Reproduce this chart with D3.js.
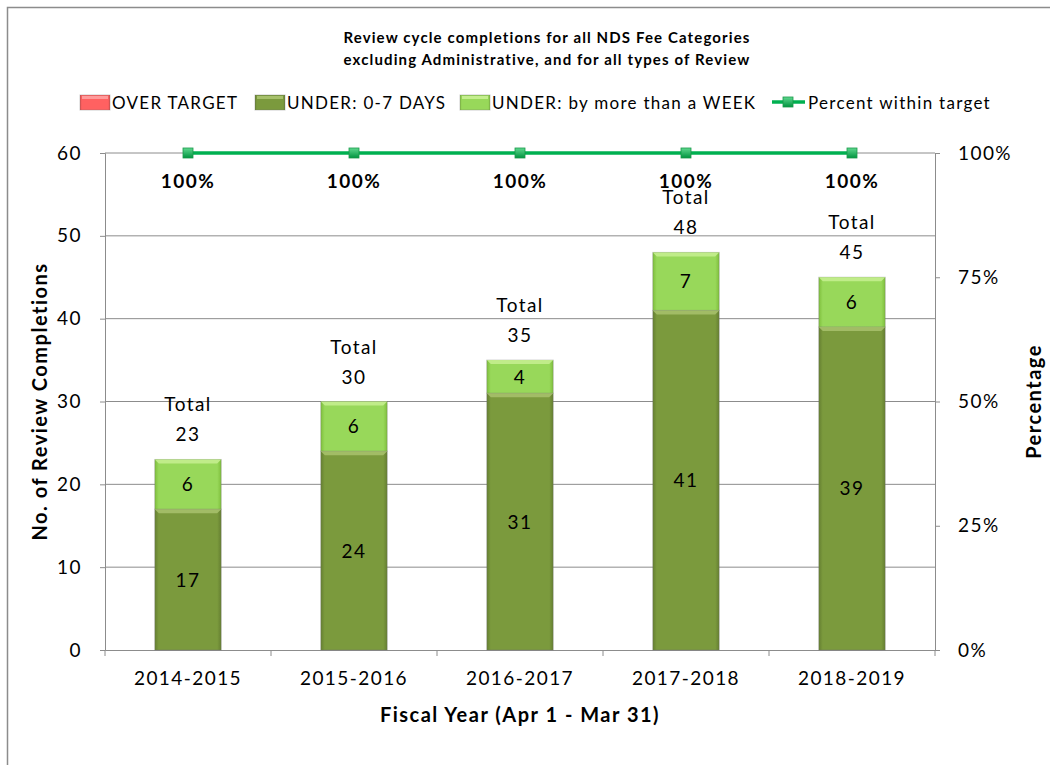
<!DOCTYPE html>
<html>
<head>
<meta charset="utf-8">
<script src="https://cdn.jsdelivr.net/npm/d3@7"></script>
<style>
  body { margin: 0; background: #fff; }
  text { font-family: Lato, "Open Sans", sans-serif; fill: #000; letter-spacing: 0.075em; }
</style>
</head>
<body>
<div id="chart"></div>
<script>
// Data
var years = ["2014-2015", "2015-2016", "2016-2017", "2017-2018", "2018-2019"];
var overTarget = [0, 0, 0, 0, 0];
var underWeekOrLess = [17, 24, 31, 41, 39];
var underMoreWeek = [6, 6, 4, 7, 6];
var percentWithin = [100, 100, 100, 100, 100];
var leftTicks = [0, 10, 20, 30, 40, 50, 60];
var rightTicks = [0, 25, 50, 75, 100];

var width = 1050, height = 765;
var margin = {top: 153, right: 115, bottom: 115, left: 105};

var svg = d3.select("#chart").append("svg")
  .attr("width", width)
  .attr("height", height);

// outer frame (only left and top visible)
svg.append("path")
  .attr("d", "M7.5,765 L7.5,7.5 L1050,7.5")
  .attr("fill", "none")
  .attr("stroke", "#8c8c8c")
  .attr("stroke-width", 1.5);

var x = d3.scaleBand()
  .domain(years)
  .range([margin.left, width - margin.right])
  .paddingInner(0.6)
  .paddingOuter(0.3);

var xb = d3.scaleBand()
  .domain(years)
  .range([margin.left, width - margin.right]);

var y = d3.scaleLinear().domain([0, 60]).range([height - margin.bottom, margin.top]);
var yp = d3.scaleLinear().domain([0, 100]).range([height - margin.bottom, margin.top]);

// gradients for beveled bars
var defs = svg.append("defs");
function bevel(id, edge, mid) {
  var g = defs.append("linearGradient").attr("id", id).attr("x1", 0).attr("x2", 1).attr("y1", 0).attr("y2", 0);
  g.append("stop").attr("offset", "0%").attr("stop-color", edge);
  g.append("stop").attr("offset", "6%").attr("stop-color", mid);
  g.append("stop").attr("offset", "94%").attr("stop-color", mid);
  g.append("stop").attr("offset", "100%").attr("stop-color", edge);
}
bevel("gOver", "#d94a4a", "#ff6161");
bevel("gDark", "#657f31", "#7b9a3d");
bevel("gLight", "#7fbf3c", "#98d85a");
var mk = defs.append("linearGradient").attr("id", "gMark").attr("x1", 0).attr("x2", 0).attr("y1", 0).attr("y2", 1);
mk.append("stop").attr("offset", "0%").attr("stop-color", "#5fd88f");
mk.append("stop").attr("offset", "100%").attr("stop-color", "#00943f");

// gridlines
svg.append("g")
  .selectAll("line")
  .data(leftTicks.slice(1))
  .enter().append("line")
  .attr("x1", margin.left).attr("x2", width - margin.right)
  .attr("y1", function(d) { return y(d); }).attr("y2", function(d) { return y(d); })
  .attr("stroke", "#8c8c8c").attr("stroke-width", 1);

// axes
var leftAxis = svg.append("g")
  .attr("transform", "translate(" + margin.left + ",0)")
  .call(d3.axisLeft(y).tickValues(leftTicks).tickSize(5).tickPadding(18));
var rightAxis = svg.append("g")
  .attr("transform", "translate(" + (width - margin.right) + ",0)")
  .call(d3.axisRight(yp).tickValues(rightTicks).tickSize(5).tickPadding(18)
    .tickFormat(function(d) { return d + "%"; }));
var bottomAxis = svg.append("g")
  .attr("transform", "translate(0," + (height - margin.bottom) + ")")
  .call(d3.axisBottom(xb).tickSize(0).tickPadding(22));

// category boundary ticks
svg.append("g").selectAll("line")
  .data(years.concat(["end"]))
  .enter().append("line")
  .attr("x1", function(d, i) { return margin.left + i * xb.bandwidth(); })
  .attr("x2", function(d, i) { return margin.left + i * xb.bandwidth(); })
  .attr("y1", height - margin.bottom).attr("y2", height - margin.bottom + 6)
  .attr("stroke", "#8c8c8c");

[leftAxis, rightAxis, bottomAxis].forEach(function(a) {
  a.selectAll(".domain").attr("stroke", "#8c8c8c");
  a.selectAll(".tick line").attr("stroke", "#8c8c8c");
  a.selectAll("text").attr("font-size", 19).attr("font-family", "Lato, sans-serif");
});

// stacked bars
var rows = years.map(function(yr, i) {
  return {year: yr, dark: underWeekOrLess[i], light: underMoreWeek[i], over: overTarget[i]};
});
var segs = [];
rows.forEach(function(r) {
  var base = 0;
  [["dark", "gDark", "#a6c06a"], ["light", "gLight", "#c4ee8e"], ["over", "gOver", "#ff9a9a"]].forEach(function(s) {
    var v = r[s[0]];
    if (v > 0) segs.push({year: r.year, y0: base, y1: base + v, v: v, fill: s[1], hi: s[2]});
    base += v;
  });
  r.total = base;
});

var bars = svg.append("g");
bars.selectAll("rect.seg")
  .data(segs)
  .enter().append("rect")
  .attr("class", "seg")
  .attr("x", function(d) { return x(d.year); })
  .attr("y", function(d) { return y(d.y1); })
  .attr("width", x.bandwidth())
  .attr("height", function(d) { return y(d.y0) - y(d.y1); })
  .attr("fill", function(d) { return "url(#" + d.fill + ")"; })
  .attr("stroke", "#6d6d6d").attr("stroke-opacity", 0.35).attr("stroke-width", 1);

// top bevel highlight
bars.selectAll("path.hi")
  .data(segs)
  .enter().append("path")
  .attr("class", "hi")
  .attr("d", function(d) {
    var x0 = x(d.year), x1 = x0 + x.bandwidth(), t = y(d.y1);
    return "M" + x0 + "," + t + " L" + x1 + "," + t + " L" + (x1 - 4) + "," + (t + 4) + " L" + (x0 + 4) + "," + (t + 4) + "Z";
  })
  .attr("fill", function(d) { return d.hi; })
  .attr("opacity", 0.9);

// value labels in segments
bars.selectAll("text.val")
  .data(segs)
  .enter().append("text")
  .attr("class", "val")
  .attr("x", function(d) { return x(d.year) + x.bandwidth() / 2; })
  .attr("y", function(d) { return (y(d.y0) + y(d.y1)) / 2 + 7; })
  .attr("text-anchor", "middle")
  .attr("font-size", 19)
  .text(function(d) { return d.v; });

// totals
var totals = svg.append("g").selectAll("g")
  .data(rows)
  .enter().append("g");
totals.append("text")
  .attr("x", function(d) { return x(d.year) + x.bandwidth() / 2; })
  .attr("y", function(d) { return y(d.total) - 48; })
  .attr("text-anchor", "middle").attr("font-size", 19)
  .text("Total");
totals.append("text")
  .attr("x", function(d) { return x(d.year) + x.bandwidth() / 2; })
  .attr("y", function(d) { return y(d.total) - 18; })
  .attr("text-anchor", "middle").attr("font-size", 19)
  .text(function(d) { return d.total; });

// percent line
var pts = years.map(function(yr, i) { return {year: yr, p: percentWithin[i]}; });
var line = d3.line()
  .x(function(d) { return xb(d.year) + xb.bandwidth() / 2; })
  .y(function(d) { return yp(d.p); });
svg.append("path")
  .datum(pts)
  .attr("d", line)
  .attr("fill", "none")
  .attr("stroke", "#00b050")
  .attr("stroke-width", 3.5);
svg.append("g").selectAll("rect")
  .data(pts)
  .enter().append("rect")
  .attr("x", function(d) { return xb(d.year) + xb.bandwidth() / 2 - 5; })
  .attr("y", function(d) { return yp(d.p) - 5; })
  .attr("width", 10).attr("height", 10)
  .attr("fill", "url(#gMark)")
  .attr("stroke", "#1a9a4a").attr("stroke-width", 0.8);
svg.append("g").selectAll("text")
  .data(pts)
  .enter().append("text")
  .attr("x", function(d) { return xb(d.year) + xb.bandwidth() / 2; })
  .attr("y", function(d) { return yp(d.p) + 35; })
  .attr("text-anchor", "middle")
  .attr("font-size", 19).attr("font-weight", "bold")
  .text(function(d) { return d.p + "%"; });

// title
var title = svg.append("text")
  .attr("x", 547).attr("y", 43)
  .attr("text-anchor", "middle")
  .attr("font-size", 15).attr("font-weight", "bold");
title.append("tspan").attr("x", 547).text("Review cycle completions for all NDS Fee Categories");
title.append("tspan").attr("x", 547).attr("dy", 22).text("excluding Administrative,  and for all types of Review");

// axis titles
svg.append("text")
  .attr("transform", "translate(47," + ((margin.top + height - margin.bottom) / 2) + ") rotate(-90)")
  .attr("text-anchor", "middle")
  .attr("font-size", 20).attr("font-weight", "bold")
  .text("No. of Review Completions");
svg.append("text")
  .attr("transform", "translate(1041," + ((margin.top + height - margin.bottom) / 2) + ") rotate(-90)")
  .attr("text-anchor", "middle")
  .attr("font-size", 20).attr("font-weight", "bold")
  .text("Percentage");
svg.append("text")
  .attr("x", (margin.left + width - margin.right) / 2)
  .attr("y", 722)
  .attr("text-anchor", "middle")
  .attr("font-size", 20).attr("font-weight", "bold")
  .text("Fiscal Year (Apr 1 - Mar 31)");

// legend
var legendItems = [
  {label: "OVER TARGET", fill: "gOver", hi: "#ff9a9a", x: 80},
  {label: "UNDER: 0-7 DAYS", fill: "gDark", hi: "#a6c06a", x: 255},
  {label: "UNDER: by more than a WEEK", fill: "gLight", hi: "#c4ee8e", x: 460}
];
var legend = svg.append("g");
var li = legend.selectAll("g").data(legendItems).enter().append("g")
  .attr("transform", function(d) { return "translate(" + d.x + ",95)"; });
li.append("rect").attr("width", 30).attr("height", 15)
  .attr("fill", function(d) { return "url(#" + d.fill + ")"; })
  .attr("stroke", "#6d6d6d").attr("stroke-opacity", 0.35);
li.append("rect").attr("x", 2).attr("y", 1).attr("width", 26).attr("height", 3)
  .attr("fill", function(d) { return d.hi; });
li.append("text").attr("x", 32).attr("y", 14).attr("font-size", 17)
  .text(function(d) { return d.label; });
var ll = legend.append("g").attr("transform", "translate(772,102)");
ll.append("line").attr("x1", 0).attr("x2", 33).attr("stroke", "#00b050").attr("stroke-width", 3.5);
ll.append("rect").attr("x", 11).attr("y", -5).attr("width", 10).attr("height", 10)
  .attr("fill", "url(#gMark)").attr("stroke", "#1a9a4a").attr("stroke-width", 0.8);
ll.append("text").attr("x", 36).attr("y", 7).attr("font-size", 17).text("Percent within target");
</script>
</body>
</html>
